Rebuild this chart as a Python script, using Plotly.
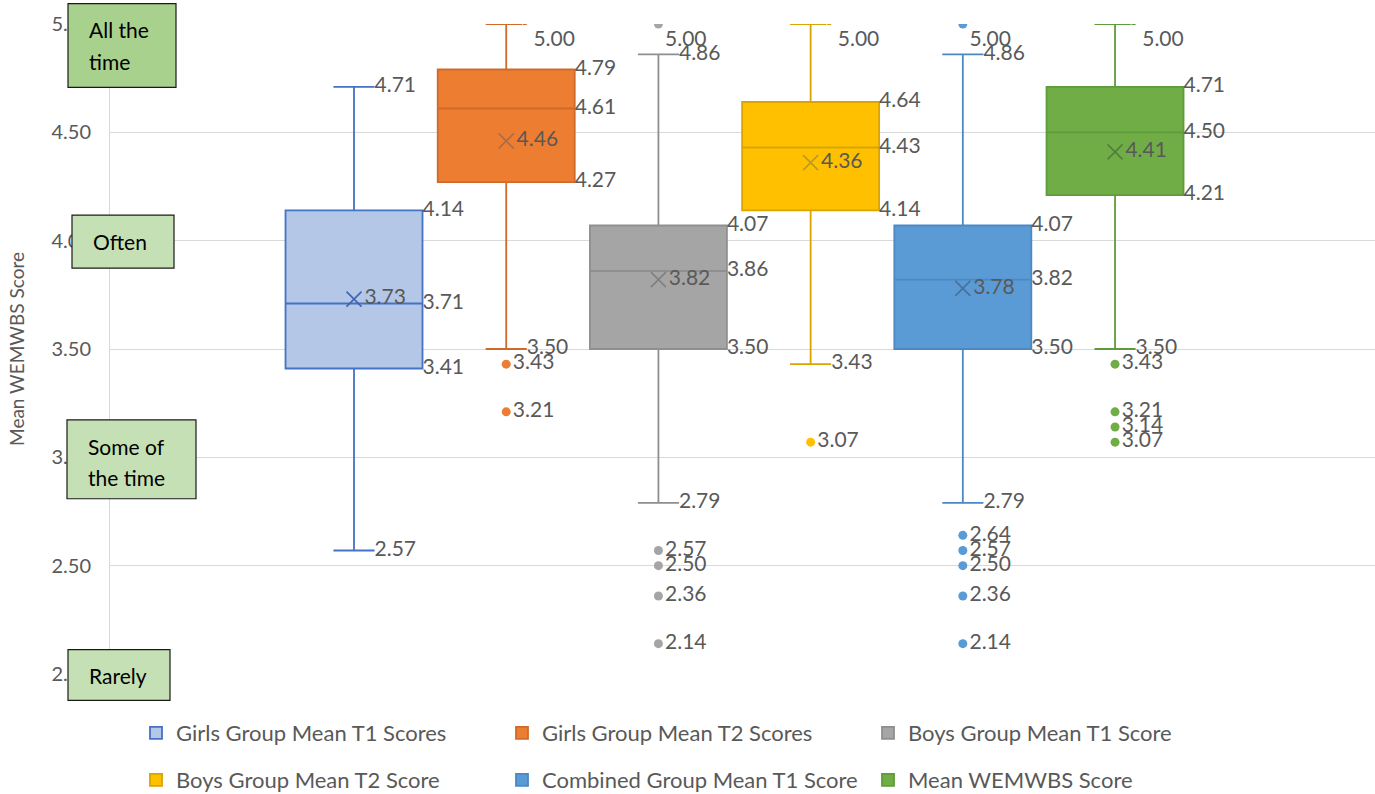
import plotly.graph_objects as go

# box-and-whisker summary per group
series_names = [
    'Girls Group Mean T1 Scores',
    'Girls Group Mean T2 Scores',
    'Boys Group Mean T1 Score',
    'Boys Group Mean T2 Score',
    'Combined Group Mean T1 Score',
    'Mean WEMWBS Score',
]
lower_whisker = [2.57, 3.50, 2.79, 3.43, 2.79, 3.50]
q1_values = [3.41, 4.27, 3.50, 4.14, 3.50, 4.21]
median_values = [3.71, 4.61, 3.86, 4.43, 3.82, 4.50]
q3_values = [4.14, 4.79, 4.07, 4.64, 4.07, 4.71]
upper_whisker = [4.71, 5.00, 4.86, 5.00, 4.86, 5.00]
mean_values = [3.73, 4.46, 3.82, 4.36, 3.78, 4.41]
outlier_values = [
    [],
    [3.43, 3.21],
    [5.00, 2.57, 2.50, 2.36, 2.14],
    [3.07],
    [5.00, 2.64, 2.57, 2.50, 2.36, 2.14],
    [3.43, 3.21, 3.14, 3.07],
]
rating_labels = [['All the', 'time'], ['Often'], ['Some of', 'the time'], ['Rarely']]

fill_colors = ['#b4c7e7', '#ed7d31', '#a5a5a5', '#ffc000', '#5b9bd5', '#70ad47']
line_colors = ['#4472c4', '#cf6a2a', '#8f8f8f', '#d9a400', '#4b88c4', '#5f9b3b']
mean_colors = ['#3f66b0', '#a86a4a', '#808080', '#b89a30', '#4a6f98', '#4f7f3c']

TEXT = '#595959'
FONT = 'Lato'
W, H = 1375, 794
L, R, T, B = 110, 0, 23.5, 119.5
BOX_W = 0.9
WHISKER_W = 0.3
LABEL_SIZE = 21
Y_MAX = 5.0


def px_x(px):
    return (px - L) / (W - L - R)


def px_y(py):
    return (H - B - py) / (H - T - B)


fig = go.Figure()

for i, name in enumerate(series_names):
    fig.add_trace(go.Box(
        x=[i], q1=[q1_values[i]], median=[median_values[i]], q3=[q3_values[i]],
        lowerfence=[lower_whisker[i]], upperfence=[upper_whisker[i]],
        name=name, width=BOX_W, whiskerwidth=WHISKER_W,
        fillcolor=fill_colors[i], line=dict(color=line_colors[i], width=1.8),
        boxpoints=False, hoverinfo='skip',
        legend='legend' if i < 3 else 'legend2',
    ))

for i in range(len(series_names)):
    # labels on quartiles / median (right of box) and whisker ends (right of cap)
    xs, ys, texts, pos, sizes = [], [], [], [], []
    for v in (q1_values[i], median_values[i], q3_values[i]):
        xs.append(i + BOX_W / 2)
        ys.append(v)
        texts.append(f'{v:.2f}')
        pos.append('middle right')
        sizes.append(0)
    for v in (lower_whisker[i], upper_whisker[i]):
        xs.append(i + BOX_W * WHISKER_W / 2)
        ys.append(v)
        texts.append(f'{v:.2f}')
        at_top = v >= Y_MAX
        pos.append('bottom right' if at_top else 'middle right')
        sizes.append(9 if at_top else 0)
    fig.add_trace(go.Scatter(
        x=xs, y=ys, text=texts, mode='markers+text', textposition=pos,
        marker=dict(size=sizes, color='rgba(0,0,0,0)'),
        textfont=dict(family=FONT, size=LABEL_SIZE, color=TEXT),
        showlegend=False, hoverinfo='skip', cliponaxis=False,
    ))

    # mean marker
    fig.add_trace(go.Scatter(
        x=[i], y=[mean_values[i]], text=[f'{mean_values[i]:.2f}'],
        mode='markers+text', textposition='middle right',
        marker=dict(symbol='x-thin-open', size=15, color=mean_colors[i],
                    line=dict(color=mean_colors[i], width=1.6)),
        textfont=dict(family=FONT, size=LABEL_SIZE, color=TEXT),
        showlegend=False, hoverinfo='skip',
    ))

    # outliers
    if outlier_values[i]:
        outs = outlier_values[i]
        fig.add_trace(go.Scatter(
            x=[i] * len(outs), y=outs, text=[f'{v:.2f}' for v in outs],
            mode='markers+text',
            textposition=['bottom right' if v >= Y_MAX else 'middle right' for v in outs],
            marker=dict(symbol='circle', size=9, color=fill_colors[i]),
            textfont=dict(family=FONT, size=LABEL_SIZE, color=TEXT),
            showlegend=False, hoverinfo='skip',
        ))

# rating boxes on the left (pixel boxes)
rating_boxes = [
    (68, 3, 176, 87, '#a9d18e', [29, 61]),
    (72, 215, 174, 268, '#c5e0b4', [241]),
    (67, 420, 196, 499, '#c5e0b4', [447, 478]),
    (68, 650, 170, 701, '#c5e0b4', [676]),
]
shapes = []
annotations = []
for (x0, y0, x1, y1, col, line_ys), lines in zip(rating_boxes, rating_labels):
    shapes.append(dict(
        type='rect', xref='paper', yref='paper', layer='above',
        x0=px_x(x0), x1=px_x(x1), y0=px_y(y1), y1=px_y(y0),
        fillcolor=col, line=dict(color='#1a1a1a', width=1.2),
    ))
    for txt, ly in zip(lines, line_ys):
        annotations.append(dict(
            text=txt, xref='paper', yref='paper', x=px_x(x0 + 19), y=px_y(ly),
            xanchor='left', yanchor='middle', showarrow=False,
            font=dict(family=FONT, size=21, color='#000000'),
        ))

legend_common = dict(
    orientation='h', xanchor='left', yanchor='middle',
    xref='container', yref='container',
    entrywidth=321, entrywidthmode='pixels',
    font=dict(family=FONT, size=22, color=TEXT),
    bgcolor='rgba(0,0,0,0)', itemclick=False, itemdoubleclick=False,
)

fig.update_layout(
    width=W, height=H,
    margin=dict(l=L, r=R, t=T, b=B, autoexpand=False),
    paper_bgcolor='white', plot_bgcolor='white',
    boxmode='overlay',
    showlegend=True,
    legend=dict(x=136 / W, y=1 - 733 / H, **legend_common),
    legend2=dict(x=136 / W, y=1 - 780 / H, **legend_common),
    xaxis=dict(
        range=[-1.6032, 6.708], showticklabels=False, showgrid=False,
        zeroline=False, showline=False, fixedrange=True, automargin=False,
    ),
    yaxis=dict(
        range=[2.0, 5.0], dtick=0.5, tickformat='.2f',
        showgrid=True, gridcolor='#d9d9d9', gridwidth=1,
        zeroline=False, showline=True, linecolor='#d9d9d9', linewidth=1,
        ticks='', ticklabelstandoff=14, automargin=False,
        tickfont=dict(family=FONT, size=20, color=TEXT),
        title=dict(text='Mean WEMWBS Score', standoff=21,
                   font=dict(family=FONT, size=19, color=TEXT)),
        fixedrange=True,
    ),
    shapes=shapes,
    annotations=annotations,
)

# the page body keeps a default 8px margin; drop it so the figure fills the window
fig.write_html('out.html', config={'displayModeBar': False},
               post_script="document.body.style.margin='0';")
